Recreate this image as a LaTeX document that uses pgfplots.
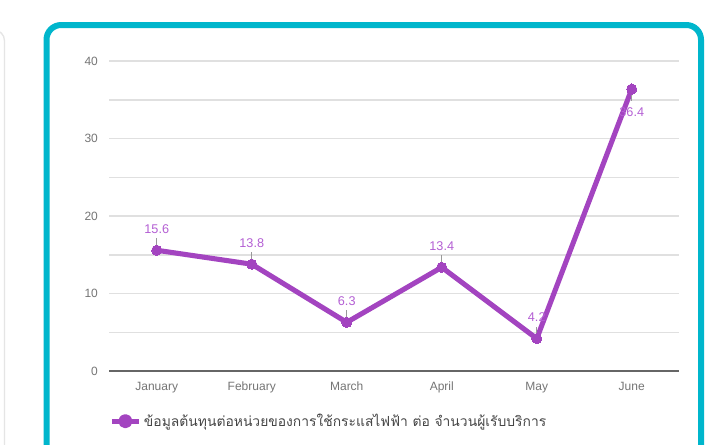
\documentclass[border=0pt]{standalone}
\usepackage{fontspec}
\setmainfont{Liberation Sans}
\newfontfamily\thaifont[Script=Thai]{Loma}
\usepackage{pgfplots}
\usepackage{pgfplotstable}
\pgfplotsset{compat=1.18}
\definecolor{lineP}{RGB}{163,68,192}
\definecolor{labP}{RGB}{180,95,212}
\definecolor{teal2}{RGB}{0,182,204}
\definecolor{gridc}{RGB}{224,224,224}
\definecolor{tickc}{RGB}{117,117,117}
\definecolor{legc}{RGB}{70,70,70}
\pgfplotstableread{
x y pos err
0 15.6 1 1.55
1 13.8 1 1.55
2 6.3 1 1.55
3 13.4 1 1.55
4 4.2 1 1.55
5 36.4 -1 -1.55
}\datatable
\begin{document}
\begin{tikzpicture}[x=0.75pt,y=0.75pt]
\useasboundingbox (0,0) rectangle (716,444);
\fill[white] (0,0) rectangle (716,444);
\begin{scope}
\clip (0,0) rectangle (716,444);
\draw[black!10, line width=1pt, rounded corners=8pt] (4.5,-10) -- (4.5,414) -- (-20,414);
\draw[teal2, line width=4.5pt, rounded corners=11pt] (46.5,-30) rectangle (701,419);
\end{scope}
\begin{axis}[
  at={(115,94)}, anchor=south west, scale only axis,
  width=427.5pt, height=232.5pt,
  xmin=-0.5, xmax=5.5, ymin=0, ymax=40,
  xtick={0,...,5}, xticklabels={January,February,March,April,May,June},
  ytick={0,10,20,30,40}, minor ytick={5,15,25,35},
  ymajorgrids, yminorgrids,
  major grid style={gridc, line width=1.1pt},
  minor grid style={gridc, line width=1.1pt},
  axis line style={draw=none},
  major tick length=0pt, minor tick length=0pt,
  tick label style={font=\fontsize{9}{10}\selectfont, text=tickc},
  /pgf/number format/assume math mode=true,
  yticklabel style={xshift=-5pt},
  xticklabel style={yshift=-4.5pt},
  clip=false,
  legend style={at={(0,-0.1613)}, anchor=west, draw=none, fill=none, inner sep=0pt,
    font=\thaifont\fontsize{10.4}{12}\selectfont, text=legc},
  legend cell align=left,
]
\draw[black!60, line width=1.1pt] (rel axis cs:0,0) -- (rel axis cs:1,0);
\addplot[lineP, line width=3.8pt, line join=round, mark=*, mark size=3.8pt,
  mark options={solid, fill=lineP, draw=lineP, line width=0pt},
  legend image code/.code={
    \draw[lineP, line width=3.6pt] (0pt,0pt) -- (20.25pt,0pt);
    \fill[lineP] (10.1pt,0pt) circle (3.4pt);}
  ] table[x=x,y=y] {\datatable};
\addlegendentry{ข้อมูลต้นทุนต่อหน่วยของการใช้กระแสไฟฟ้า ต่อ จำนวนผู้เรับบริการ}
\addplot[draw=none, forget plot, error bars/.cd, y dir=plus, y explicit,
  error bar style={black!40, line width=0.6pt}, error mark=none]
  table[x=x, y=y, y error=err] {\datatable};
\addplot[draw=none, forget plot, nodes near coords, point meta=explicit symbolic,
  visualization depends on={\thisrow{pos}\as\lpos},
  nodes near coords style={anchor=base, yshift={(16.5*\lpos-3.75)*1pt},
    font=\fontsize{9.5}{10}\selectfont, text=labP, inner sep=0pt}]
  table[x=x, y=y, meta=y] {\datatable};
\end{axis}
\end{tikzpicture}
\end{document}
